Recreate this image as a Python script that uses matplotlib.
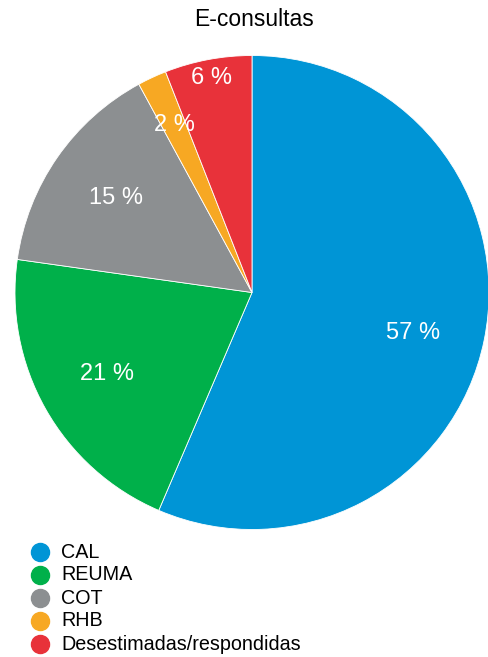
import matplotlib.pyplot as plt
import numpy as np
from matplotlib.lines import Line2D

# E-consultas por destino (%)
categorias = ['CAL', 'REUMA', 'COT', 'RHB', 'Desestimadas/respondidas']
valores = [57, 21, 15, 2, 6]
colores = ['#0095d6', '#00b04a', '#8c8f91', '#f7a823', '#e8323a']
etiquetas = ['57 %', '21 %', '15 %', '2 %', '6 %']
dist_etiqueta = [0.70, 0.70, 0.70, 0.78, 0.92]
giro_etiqueta = [-2.5, 0, 0, 0, 0]  # grados

plt.rcParams['font.family'] = ['Liberation Sans', 'DejaVu Sans']

W, H = 488, 657
fig = plt.figure(figsize=(W / 100, H / 100), dpi=100)

# eje cuadrado en pixeles: centro (252, 292.5), radio 237
cx, cy, r = 252, 292.5, 237
ax = fig.add_axes([(cx - r) / W, (H - cy - r) / H, 2 * r / W, 2 * r / H])
wedges, _ = ax.pie(valores, colors=colores, startangle=90, counterclock=False,
                   radius=1, wedgeprops=dict(linewidth=0.6, edgecolor='white'))
ax.set_xlim(-1, 1)
ax.set_ylim(-1, 1)
ax.set_aspect('equal')
ax.axis('off')

for w, txt, d, g in zip(wedges, etiquetas, dist_etiqueta, giro_etiqueta):
    ang = np.deg2rad((w.theta1 + w.theta2) / 2 + g)
    ax.text(d * np.cos(ang), d * np.sin(ang), txt, color='white',
            fontsize=17, ha='center', va='center')

fig.text(254 / W, 1 - 20 / H, 'E-consultas', fontsize=16.5,
         ha='center', va='center')

# leyenda con circulos
y0, paso = 552, 23
for i, (cat, col) in enumerate(zip(categorias, colores)):
    y = 1 - (y0 + i * paso) / H
    fig.add_artist(Line2D([40 / W], [y], marker='o', markersize=13,
                          color=col, linestyle='none'))
    fig.text(61 / W, y, cat, fontsize=14.2, ha='left', va='center')

fig.savefig('out.png', dpi=100)
